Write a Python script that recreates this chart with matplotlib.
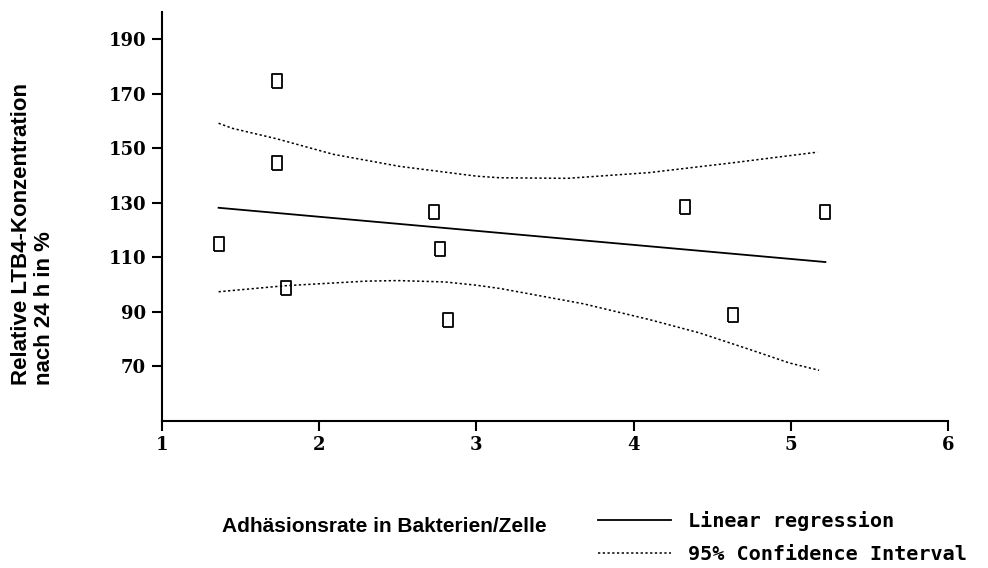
import matplotlib
matplotlib.use('Agg')
import matplotlib.pyplot as plt
from matplotlib.lines import Line2D

# Messwerte: Adhäsionsrate vs. relative LTB4-Konzentration
adh = [1.36, 1.73, 1.73, 1.79, 2.73, 2.77, 2.82, 4.33, 4.63, 5.22]
ltb4 = [115.0, 174.6, 144.6, 98.7, 126.7, 113.0, 87.2, 128.5, 89.0, 126.5]

# Regressionsgerade (Endpunkte aus dem Bild)
reg_x = [1.36, 5.22]
reg_y = [128.2, 108.3]

# 95%-Konfidenzintervall, obere und untere Grenze
ci_up_x = [1.36, 1.45, 1.73, 2.09, 2.51, 3.0, 3.15, 3.58, 4.1, 4.63, 5.17]
ci_up_y = [159.2, 157.3, 153.5, 147.8, 143.4, 139.8, 139.2, 139.0, 141.1, 144.7, 148.6]
ci_lo_x = [1.36, 1.78, 2.3, 2.5, 2.8, 3.0, 3.15, 3.68, 4.1, 4.42, 4.74, 4.99, 5.18]
ci_lo_y = [97.4, 99.6, 101.3, 101.5, 101.0, 99.8, 98.6, 93.0, 87.2, 82.3, 76.2, 71.3, 68.6]

x_ticks = [1, 2, 3, 4, 5, 6]
y_ticks = [70, 90, 110, 130, 150, 170, 190]

fig = plt.figure(figsize=(9.88, 5.68), dpi=100)
ax = fig.add_axes([162 / 988, 1 - 421 / 568, (948 - 162) / 988, (421 - 12) / 568])

# Rechteckiger Marker (etwas höher als breit)
rect = [(-0.36, -0.5), (0.36, -0.5), (0.36, 0.5), (-0.36, 0.5), (-0.36, -0.5)]
ax.plot(adh, ltb4, linestyle='none', marker=rect, markersize=10.5,
        markerfacecolor='white', markeredgecolor='black', markeredgewidth=1.3)

ax.plot(reg_x, reg_y, color='black', lw=1.3)
ax.plot(ci_up_x, ci_up_y, color='black', lw=1.1, linestyle=(0, (1.5, 1.6)))
ax.plot(ci_lo_x, ci_lo_y, color='black', lw=1.1, linestyle=(0, (1.5, 1.6)))

ax.set_xlim(1, 6)
ax.set_ylim(50, 200)
ax.set_xticks(x_ticks)
ax.set_yticks(y_ticks)
ax.set_xticklabels([str(t) for t in x_ticks])
ax.set_yticklabels([str(t) for t in y_ticks])

for s in ['top', 'right']:
    ax.spines[s].set_visible(False)
for s in ['left', 'bottom']:
    ax.spines[s].set_linewidth(1.5)

ax.tick_params(axis='both', direction='out', length=7.5, width=1.5, pad=3)
ax.tick_params(axis='y', pad=4)
for lab in ax.get_xticklabels() + ax.get_yticklabels():
    lab.set_fontfamily('DejaVu Serif')
    lab.set_fontweight('bold')
    lab.set_fontsize(13)

# Achsenbeschriftungen
fig.text(33 / 988, 1 - 234 / 568, 'Relative LTB4-Konzentration\nnach 24 h in %',
         rotation=90, ha='center', va='center', multialignment='left',
         fontfamily='Liberation Sans', fontweight='bold', fontsize=16, linespacing=1.15)
fig.text(384 / 988, 1 - 527 / 568, 'Adhäsionsrate in Bakterien/Zelle',
         ha='center', va='center', fontfamily='Liberation Sans', fontweight='bold', fontsize=15)

# Legende
handles = [Line2D([], [], color='black', lw=1.3),
           Line2D([], [], color='black', lw=1.1, linestyle=(0, (1.5, 1.6)))]
fig.legend(handles, ['Linear regression', '95% Confidence Interval'],
           loc='upper left', bbox_to_anchor=(598 / 988, 1 - 511 / 568),
           frameon=False, borderpad=0, borderaxespad=0, handlelength=3.6,
           handletextpad=0.85, labelspacing=0.72,
           prop={'family': 'DejaVu Sans Mono', 'size': 14.5, 'weight': 'bold'})

fig.savefig('out.png', dpi=100)
